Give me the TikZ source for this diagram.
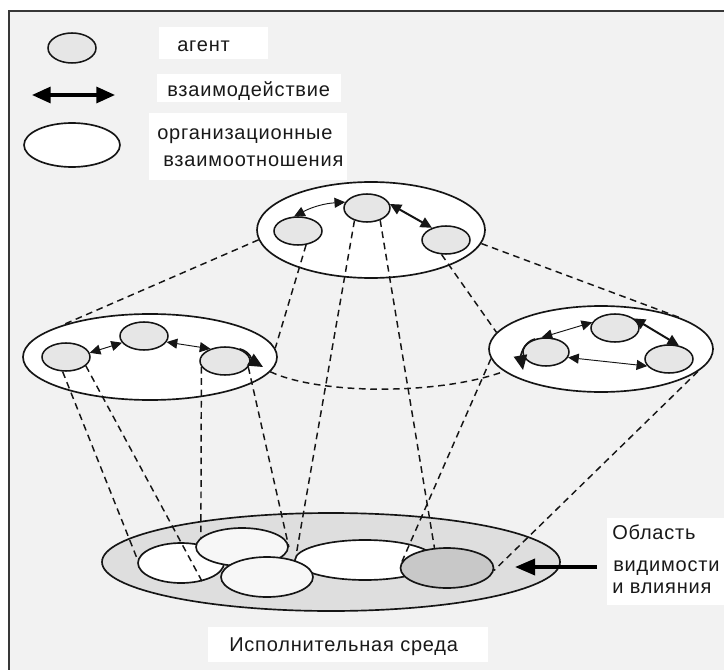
\documentclass[tikz,border=0pt]{standalone}
\usepackage{fontspec}
\setmainfont{Liberation Sans}[LetterSpace=4]
\usetikzlibrary{shapes.geometric,arrows.meta}
\definecolor{bgc}{HTML}{F2F2F2}
\definecolor{ln}{HTML}{151515}
\definecolor{agc}{HTML}{E6E6E6}
\definecolor{envc}{HTML}{DEDEDE}
\definecolor{vis}{HTML}{C8C8C8}
\definecolor{inc}{HTML}{F7F7F7}
\tikzset{
  agent/.style={ellipse, draw=ln, line width=1.15pt, fill=agc, minimum width=36pt, minimum height=21pt, inner sep=0pt},
  grp/.style={ellipse, draw=ln, line width=1.25pt, fill=white, inner sep=0pt},
  dsh/.style={draw=ln, line width=1.1pt, dash pattern=on 5pt off 3.5pt},
  ia/.style={draw=ln, line width=0.7pt, {Triangle[length=8pt,width=7.5pt]}-{Triangle[length=8pt,width=7.5pt]}},
  iab/.style={draw=ln, line width=1.5pt, {Triangle[length=8.5pt,width=8pt]}-{Triangle[length=8.5pt,width=8pt]}},
  bighd/.style={draw=ln, line width=1.2pt, -{Triangle[length=11pt,width=10pt]}},
  legarrow/.style={draw=black, line width=2.4pt, {Triangle[length=14pt,width=12pt]}-{Triangle[length=14pt,width=12pt]}},
  ptr/.style={draw=black, line width=2.6pt, -{Triangle[length=15pt,width=12pt]}},
  box/.style={rectangle, fill=white, draw=none, inner sep=0pt},
  txt/.style={anchor=base west, inner sep=0pt, text=black!90}
}
\begin{document}
\begin{tikzpicture}[x=0.75pt, y=-0.75pt, font=\fontsize{15}{20}\selectfont]
\useasboundingbox (0,0) rectangle (724,670);
\fill[white] (0,0) rectangle (724,670);
\fill[bgc] (9,11) rectangle (724,670);
\draw[draw=ln!85, line width=1.3pt] (9,670) -- (9,11) -- (724,11);

% ---------- legend ----------
\node[agent, minimum height=22.5pt] (lga) at (72,48) {};
\coordinate (lgl) at (32,95);
\coordinate (lgr) at (115,95);
\draw[legarrow] (lgl) -- (lgr);
\node[grp, minimum width=72pt, minimum height=33pt] (lgo) at (72,145) {};

\node[box, minimum width=81.75pt, minimum height=24pt] (b1) at (213.5,43) {};
\node[txt] (t1) at (177,52) {агент};
\node[box, minimum width=138pt, minimum height=21pt] (b2) at (249,88) {};
\node[txt] (t2) at (167,97) {взаимодействие};
\node[box, minimum width=148.5pt, minimum height=50.25pt] (b3) at (248,146.5) {};
\node[txt] (t3) at (157,140) {организационные};
\node[txt] (t3b) at (163,167) {взаимоотношения};

% ---------- organisational groups ----------
\node[grp, minimum width=171pt, minimum height=72pt] (top) at (371,230) {};
\node[grp, minimum width=190.5pt, minimum height=64.5pt] (L) at (150,357) {};
\node[grp, minimum width=168pt, minimum height=64.5pt] (R) at (601,349) {};

% ---------- execution environment ----------
\node[grp, fill=envc, minimum width=343.5pt, minimum height=73.5pt] (env) at (331,562) {};
\node[grp, fill=white, minimum width=64.5pt, minimum height=30pt] (e1) at (181,563) {};
\node[grp, fill=inc, minimum width=69pt, minimum height=28.5pt] (e2) at (242,547) {};
\node[grp, fill=white, minimum width=105pt, minimum height=30pt] (e4) at (365,560) {};
\node[grp, fill=inc, minimum width=69pt, minimum height=30pt] (e3) at (267,577) {};
\node[grp, fill=vis, minimum width=69.75pt, minimum height=30pt] (e5) at (447,568) {};

% ---------- agents ----------
\node[agent] (ta) at (298,231) {};
\node[agent, minimum width=34.5pt] (tb) at (367,208) {};
\node[agent] (tc) at (446,240) {};

\node[agent] (la) at (66,357) {};
\node[agent] (lb) at (144,336) {};
\node[agent, minimum width=37.5pt] (lc) at (225,361) {};

\node[agent, minimum width=34.5pt] (ra) at (546,352) {};
\node[agent] (rb) at (615,328) {};
\node[agent] (rc) at (669,359) {};

% ---------- interactions ----------
\draw[ia] (ta.105) to[bend left=12] (tb.165);
\draw[iab] (tb.10) -- (tc.139);

\draw[ia] (la.10) -- (lb.197);
\draw[ia] (lb.345) -- (lc.140);
\coordinate (lcx) at (263,367);
\draw[bighd] (lc.40) to[out=-15,in=150] (lcx);

\draw[ia] (ra.107) -- (rb.166);
\draw[iab] (rb.27) -- (rc.54);
\draw[ia] (ra.346) -- (rc.198);
\coordinate (rax) at (523,370);
\draw[bighd] (ra.130) to[out=195,in=100] (rax);

% ---------- dashed projections ----------
\draw[dsh] (top.185) -- (L.160);
\draw[dsh] (top.353) -- (R.21);
\draw[dsh] (L.353) .. controls (320,395) and (440,395) .. (R.193);
\draw[dsh] (ta.300) -- (L.4);
\draw[dsh] (tc.253) -- (R.171);
\draw[dsh] (tb.225) -- (e4.176);
\draw[dsh] (tb.317) -- (e5.122);
\draw[dsh] (la.257) -- (e1.176);
\draw[dsh] (la.336) -- (e1.319);
\draw[dsh] (lc.194) -- (e2.167);
\draw[dsh] (lc.345) -- (e2.east);
\draw[dsh] (R.185) -- (e5.172);
\draw[dsh] (R.347) -- (e5.357);

% ---------- labels at the bottom ----------
\node[box, minimum width=210pt, minimum height=26.25pt] (b4) at (348,644.5) {};
\node[txt] (t4) at (229,651) {Исполнительная среда};

\node[box, minimum width=87.75pt, minimum height=65.25pt] (b5) at (665.5,561.5) {};
\node[txt] (t5) at (612,539) {Область};
\node[txt] (t5b) at (613,571) {видимости};
\node[txt] (t5c) at (612,593) {и влияния};

\coordinate (pa) at (597,567);
\coordinate (pb) at (515,567);
\draw[ptr] (pa) -- (pb);
\end{tikzpicture}
\end{document}
